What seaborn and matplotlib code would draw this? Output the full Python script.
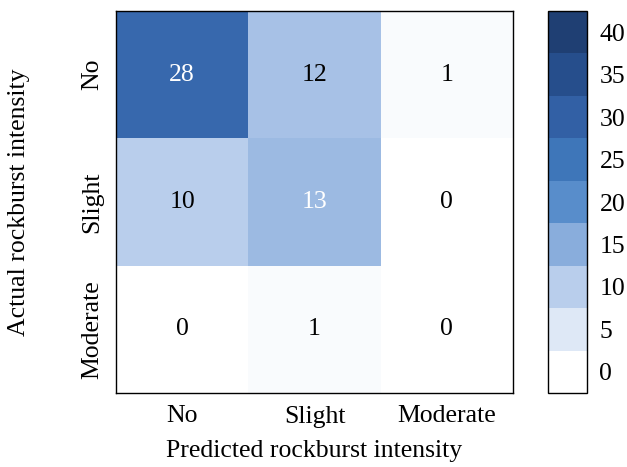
import numpy as np
import pandas as pd
import seaborn as sns
import matplotlib
matplotlib.use("Agg")
import matplotlib.pyplot as plt
from matplotlib.colors import LinearSegmentedColormap, ListedColormap, BoundaryNorm
from matplotlib.cm import ScalarMappable

# Confusion matrix of rockburst intensity classes
classes = ["No", "Slight", "Moderate"]
counts = [
    [28, 12, 1],
    [10, 13, 0],
    [0, 1, 0],
]
cbar_ticks = [0, 5, 10, 15, 20, 25, 30, 35, 40]

# Blue ramp, one colour per colour-bar level
level_colors = [
    "#ffffff", "#dee8f6", "#b9ceec", "#89addc", "#588dcb",
    "#3e76b9", "#3260a5", "#264e8c", "#1f3f73",
]

FS = 18.5

sns.set_theme(style="white")
plt.rcParams["font.family"] = ["Liberation Serif", "DejaVu Serif"]
plt.rcParams["font.size"] = FS
for key in ("text.color", "axes.labelcolor", "xtick.color", "ytick.color"):
    plt.rcParams[key] = "black"

df = pd.DataFrame(counts, index=classes, columns=classes)

fig = plt.figure(figsize=(6.27, 4.67), dpi=100)
ax = fig.add_axes([116 / 627, 1 - 393 / 467, (513 - 116) / 627, (393 - 11) / 467])
cax = fig.add_axes([548 / 627, 1 - 393 / 467, (587 - 548) / 627, (393 - 11) / 467])

smooth = LinearSegmentedColormap.from_list(
    "ramp", list(zip(np.linspace(0, 1, len(level_colors)), level_colors))
)

sns.heatmap(df, ax=ax, cmap=smooth, vmin=cbar_ticks[0], vmax=cbar_ticks[-1],
            annot=True, fmt="d", cbar=False, annot_kws={"fontsize": FS})

# annotation colours: white on the two mid/dark cells
for t in ax.texts:
    v = int(t.get_text())
    t.set_color("white" if v in (28, 13) else "black")

for s in ax.spines.values():
    s.set_visible(True)
    s.set_color("black")
    s.set_linewidth(1.0)

ax.set_xlabel("Predicted rockburst intensity", fontsize=FS, labelpad=9)
ax.set_ylabel("Actual rockburst intensity", fontsize=FS, labelpad=37)
ax.set_xticklabels(classes, fontsize=FS, rotation=0)
ax.set_yticklabels(classes, fontsize=FS, rotation=90, va="center")
ax.tick_params(length=0, pad=9)

# Stepped colour bar
bounds = np.arange(-2.5, 45, 5)
norm = BoundaryNorm(bounds, len(level_colors))
sm = ScalarMappable(norm=norm, cmap=ListedColormap(level_colors))
cb = fig.colorbar(sm, cax=cax, ticks=cbar_ticks)
cb.minorticks_off()
cb.outline.set_edgecolor("black")
cb.outline.set_linewidth(1.0)
cb.ax.tick_params(which="both", length=0, labelsize=FS, pad=9)

fig.savefig("out.png", dpi=100)
